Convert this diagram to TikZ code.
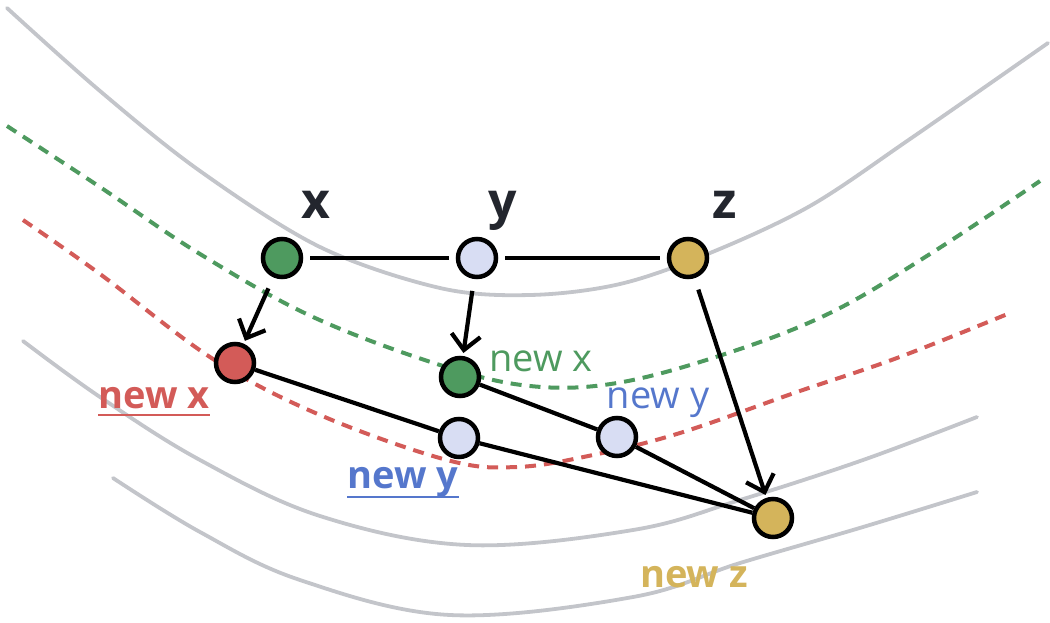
\documentclass[tikz,border=0pt]{standalone}
\usepackage{fontspec}
\setmainfont{Open Sans}
\usetikzlibrary{arrows.meta}
\definecolor{ngreen}{HTML}{4E9A5F}
\definecolor{nred}{HTML}{D35B58}
\definecolor{nlav}{HTML}{D8DDF3}
\definecolor{ngold}{HTML}{D4B45B}
\definecolor{nblue}{HTML}{5577CC}
\definecolor{ngray}{HTML}{C3C5CA}
\definecolor{ndark}{HTML}{23262E}
\begin{document}
\begin{tikzpicture}[x=1pt,y=-1pt,
  dot/.style={circle,draw=black,line width=4.5pt,minimum size=38pt,inner sep=0pt},
  conn/.style={draw=black,line width=4.2pt},
  arr/.style={conn,-{Straight Barb[length=15pt,width=29pt,line width=4.2pt]},shorten <=12pt,shorten >=3pt},
  gapline/.style={conn,shorten <=7pt,shorten >=7pt},
  level/.style={draw=ngray,line width=3.8pt,line cap=round},
  iter/.style={line width=4pt,dash pattern=on 11pt off 8pt},
  lbl/.style={anchor=base,inner sep=0pt,font=\fontsize{38}{40}\selectfont},
  lblb/.style={anchor=base,inner sep=0pt,font=\bfseries\fontsize{38}{40}\selectfont},
  lbig/.style={anchor=base,inner sep=0pt,text=ndark,font=\bfseries\fontsize{50}{50}\selectfont},
  uline/.style={line width=2.5pt}
]
\useasboundingbox (0,0) rectangle (1050,622);

% level curves
\draw[level] plot[smooth,tension=0.55] coordinates {(7,8) (100,91) (200,171) (320,247) (440,288) (530,295) (620,284) (710,253) (810,206) (910,139) (1048,43)};
\draw[level] plot[smooth,tension=0.6] coordinates {(23,341) (100,397) (200,460) (320,516) (467,545) (633,530) (740,500) (863,460) (977,417)};
\draw[level] plot[smooth,tension=0.6] coordinates {(113,478) (200,532) (300,580) (450,615) (633,597) (740,563) (863,527) (977,492)};

% dashed iterate curves
\draw[iter,ngreen] plot[smooth,tension=0.6] coordinates {(7,126) (100,187) (200,254) (313,317) (440,365) (530,386) (617,383) (725,354) (830,313) (930,254) (1040,181)};
\draw[iter,nred] plot[smooth,tension=0.6] coordinates {(23,220) (100,274) (213,359) (320,415) (447,460) (517,467) (593,455) (680,433) (797,392) (897,358) (1010,313)};

% nodes
\node[dot,fill=ngreen] (x) at (282,258) {};
\node[dot,fill=nlav] (y) at (477,258) {};
\node[dot,fill=ngold] (z) at (688,258) {};
\node[dot,fill=nred] (rx) at (235,363) {};
\node[dot,fill=ngreen] (gx) at (460,377) {};
\node[dot,fill=nlav] (by) at (459,438) {};
\node[dot,fill=nlav] (ly) at (617,437) {};
\node[dot,fill=ngold] (nz) at (773,518) {};

% connectors
\draw[gapline] (x) -- (y);
\draw[gapline] (y) -- (z);
\draw[arr] (x) -- (rx);
\draw[arr] (y) -- (gx);
\draw[arr] (z) -- (nz);
\draw[conn] (rx) -- (by);
\draw[conn] (by) -- (nz);
\draw[conn] (gx) -- (ly);
\draw[conn] (ly) -- (nz);

% labels
\node[lbig] (tx) at (316,218) {x};
\node[lbig] (ty) at (503,218) {y};
\node[lbig] (tz) at (725,218) {z};
\node[lblb,text=nred] (trx) at (154,408) {new x};
\draw[uline,nred] ([yshift=-7pt]trx.base west) -- ([yshift=-7pt]trx.base east);
\node[lbl,text=ngreen] (tgx) at (541,371) {new x};
\node[lbl,text=nblue] (tly) at (658,408) {new y};
\node[lblb,text=nblue] (tby) at (403,488) {new y};
\draw[uline,nblue] ([yshift=-9pt]tby.base west) -- ([yshift=-9pt]tby.base east);
\node[lblb,text=ngold] (tnz) at (694,587) {new z};
\end{tikzpicture}
\end{document}
